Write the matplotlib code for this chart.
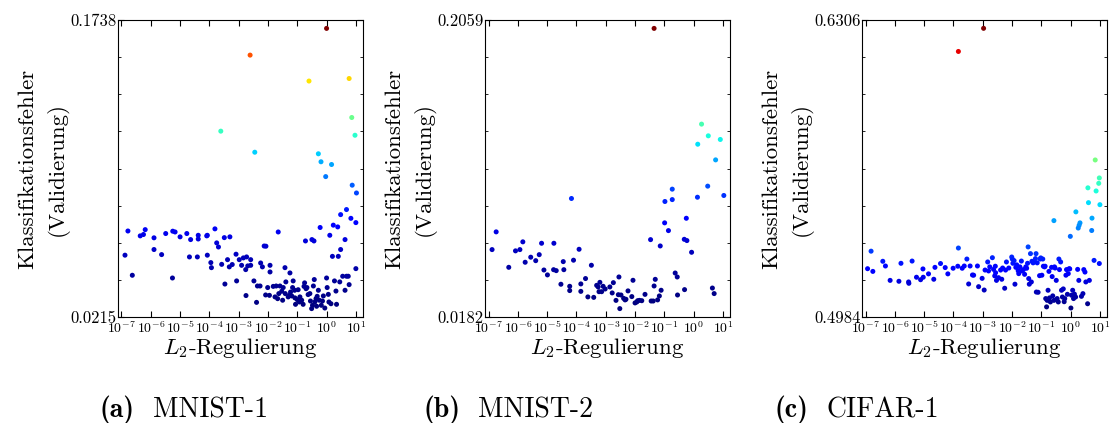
import numpy as np
import matplotlib
matplotlib.use("Agg")
import matplotlib.pyplot as plt
from matplotlib.ticker import FixedLocator, FixedFormatter

plt.rcParams['font.family'] = 'serif'
plt.rcParams['font.serif'] = ['cmr10']
plt.rcParams['mathtext.fontset'] = 'cm'
plt.rcParams['axes.unicode_minus'] = False
plt.rcParams['axes.formatter.use_mathtext'] = True

# log10 of the L2 value and validation error
mnist1_logl2 = [0.00, -2.61, -0.60, 0.77, 0.86, -3.61, 0.97, -2.45, -0.28, -0.19, 0.17, -0.03,
                0.875, 1.02, 0.48, 0.68, 0.83, 1.00,
                -6.88, -6.78, -6.63, -6.36, -6.25, -6.19, -5.89, -5.89, -5.63, -5.49, -5.26, -5.25,
                -5.17, -5.00, -4.77, -4.68, -4.64, -4.41, -4.38, -4.38, -4.09, -4.07, -4.07, -3.95,
                -3.93, -3.81, -3.75, -3.69, -3.58, -3.47, -3.49, -3.38, -3.30, -3.32, -3.22, -3.09,
                -3.07, -2.98, -2.90, -2.84, -2.76, -2.75, -2.73, -2.69, -2.59, -2.59, -2.48, -2.39,
                -2.36, -2.27, -2.25, -2.19, -2.13, -2.08, -2.07, -2.01, -1.95, -1.93, -1.93, -1.82,
                -1.76, -1.72, -1.67, -1.65, -1.63, -1.59, -1.53, -1.50, -1.48, -1.42, -1.41, -1.39,
                -1.31, -1.27, -1.25, -1.23, -1.19, -1.16, -1.14, -1.09, -1.08, -1.06, -1.00, -0.97,
                -0.93, -0.91, -0.85, -0.80, -0.77, -0.75, -0.72, -0.70, -0.67, -0.63, -0.57, -0.55,
                -0.51, -0.50, -0.48, -0.45, -0.43, -0.42, -0.40, -0.36, -0.34, -0.32, -0.28, -0.25,
                -0.22, -0.18, -0.14, -0.11, -0.06, 0.00, 0.02, 0.06, 0.08, 0.11, 0.15, 0.20,
                0.23, 0.27, 0.32, 0.34, 0.38, 0.40, 0.45, 0.48, 0.55, 0.63, 0.63, 0.68,
                0.74, 0.77, 1.00]
mnist1_err = [0.1695, 0.1558, 0.1425, 0.1438, 0.1238, 0.1168, 0.1147, 0.1060, 0.1052, 0.1011, 0.0997, 0.0935,
              0.0891, 0.0851, 0.0740, 0.0766, 0.0721, 0.0699,
              0.0532, 0.0656, 0.0429, 0.0631, 0.0638, 0.0663, 0.0621, 0.0561, 0.0535, 0.0643, 0.0415, 0.0655,
              0.0651, 0.0626, 0.0643, 0.0523, 0.0612, 0.0523, 0.0634, 0.0615, 0.0631, 0.0634, 0.0532, 0.0494,
              0.0468, 0.0667, 0.0595, 0.0574, 0.0485, 0.0384, 0.0622, 0.0509, 0.0626, 0.0472, 0.0484, 0.0537,
              0.0400, 0.0509, 0.0480, 0.0518, 0.0458, 0.0325, 0.0523, 0.0477, 0.0509, 0.0480, 0.0400, 0.0290,
              0.0374, 0.0374, 0.0492, 0.0472, 0.0579, 0.0328, 0.0578, 0.0366, 0.0326, 0.0480, 0.0446, 0.0372,
              0.0318, 0.0374, 0.0309, 0.0651, 0.0335, 0.0374, 0.0347, 0.0301, 0.0366, 0.0468, 0.0335, 0.0395,
              0.0318, 0.0326, 0.0441, 0.0343, 0.0323, 0.0366, 0.0400, 0.0352, 0.0313, 0.0280, 0.0304, 0.0355,
              0.0292, 0.0318, 0.0301, 0.0280, 0.0372, 0.0390, 0.0605, 0.0360, 0.0366, 0.0330, 0.0335, 0.0297,
              0.0258, 0.0612, 0.0275, 0.0374, 0.0605, 0.0407, 0.0292, 0.0309, 0.0270, 0.0321, 0.0352, 0.0301,
              0.0674, 0.0275, 0.0297, 0.0323, 0.0261, 0.0415, 0.0366, 0.0331, 0.0292, 0.0634, 0.0283, 0.0526,
              0.0686, 0.0400, 0.0348, 0.0280, 0.0677, 0.0526, 0.0395, 0.0561, 0.0424, 0.0612, 0.0352, 0.0424,
              0.0424, 0.0381, 0.0463]

mnist2_logl2 = [-1.35, 0.27, 0.50, 0.14, 0.91, 0.75, 0.48, 0.13, 1.03, -4.17, -0.73, -0.73,
                -0.98, -0.99, -0.86, -0.25, -1.47, -1.14, -0.32, -0.23, -0.07,
                -6.88, -6.74, -6.31, -6.08, -5.93, -5.83, -5.75, -5.56, -5.39, -5.27, -5.19, -5.11,
                -4.99, -4.78, -4.77, -4.69, -4.53, -4.45, -4.43, -4.23, -4.23, -4.10, -3.91, -3.85,
                -3.85, -3.69, -3.61, -3.49, -3.41, -3.31, -3.26, -3.23, -3.20, -3.14, -3.09, -3.02,
                -2.86, -2.78, -2.74, -2.65, -2.57, -2.55, -2.52, -2.48, -2.39, -2.34, -2.31, -2.24,
                -2.11, -2.07, -2.00, -1.94, -1.91, -1.85, -1.77, -1.66, -1.45, -1.38, -1.35, -1.31,
                -1.23, -1.17, -1.11, -0.63, -0.56, -0.55, -0.31, 0.64, 0.70]
mnist2_err = [0.2006, 0.1401, 0.1327, 0.1274, 0.1304, 0.1175, 0.1009, 0.0939, 0.0950, 0.0931, 0.0990, 0.0924,
              0.0912, 0.0777, 0.0728, 0.0806, 0.0671, 0.0631, 0.0673, 0.0665, 0.0591,
              0.0608, 0.0720, 0.0496, 0.0600, 0.0608, 0.0657, 0.0528, 0.0560, 0.0538, 0.0576, 0.0648, 0.0479,
              0.0448, 0.0481, 0.0648, 0.0475, 0.0389, 0.0532, 0.0481, 0.0376, 0.0349, 0.0541, 0.0610, 0.0391,
              0.0344, 0.0425, 0.0309, 0.0509, 0.0306, 0.0382, 0.0372, 0.0342, 0.0401, 0.0342, 0.0376, 0.0359,
              0.0372, 0.0334, 0.0399, 0.0287, 0.0323, 0.0435, 0.0235, 0.0321, 0.0300, 0.0290, 0.0294, 0.0347,
              0.0311, 0.0414, 0.0271, 0.0277, 0.0285, 0.0287, 0.0285, 0.0325, 0.0283, 0.0283, 0.0378, 0.0420,
              0.0290, 0.0315, 0.0351, 0.0460, 0.0435, 0.0321, 0.0355, 0.0365, 0.0330]

cifar1_logl2 = [-2.97, -3.83, 0.84, 0.98, 0.96, 0.59, 0.87, 0.61, 1.00, 0.18, -0.57, 0.73,
                0.32, 0.29, 0.26, 0.72, -0.01,
                -6.93, -6.81, -6.75, -6.41, -6.32, -6.16, -5.86, -5.79, -5.53, -5.52, -5.41, -5.26,
                -5.12, -5.04, -5.03, -4.85, -4.67, -4.63, -4.44, -4.28, -4.19, -4.01, -3.85, -3.83,
                -3.70, -3.63, -3.54, -3.48, -3.43, -3.35, -3.31, -3.18, -3.14, -3.02, -2.95, -2.92,
                -2.83, -2.80, -2.76, -2.67, -2.63, -2.59, -2.57, -2.56, -2.53, -2.46, -2.39, -2.35,
                -2.32, -2.25, -2.22, -2.19, -2.11, -2.01, -1.99, -1.97, -1.93, -1.90, -1.87, -1.84,
                -1.79, -1.77, -1.73, -1.68, -1.66, -1.61, -1.57, -1.53, -1.50, -1.47, -1.45, -1.43,
                -1.41, -1.37, -1.34, -1.32, -1.28, -1.24, -1.20, -1.18, -1.17, -1.14, -1.11, -1.06,
                -1.04, -1.02, -0.98, -0.95, -0.93, -0.89, -0.87, -0.85, -0.82, -0.80, -0.77, -0.74,
                -0.72, -0.69, -0.65, -0.63, -0.61, -0.57, -0.55, -0.53, -0.49, -0.46, -0.42, -0.40,
                -0.38, -0.34, -0.31, -0.28, -0.25, -0.22, -0.20, -0.16, -0.14, -0.11, -0.08, -0.05,
                -0.03, 0.01, 0.03, 0.07, 0.10, 0.13, 0.17, 0.24, 0.28, 0.37, 0.42, 0.45,
                0.49, 0.52, 0.58, 0.64, 0.80, 0.98]
cifar1_err = [0.6269, 0.6166, 0.5683, 0.5603, 0.5579, 0.5559, 0.5545, 0.5493, 0.5484, 0.5452, 0.5413, 0.5424,
              0.5403, 0.5392, 0.5380, 0.5369, 0.5343,
              0.5199, 0.5277, 0.5187, 0.5232, 0.5211, 0.5147, 0.5143, 0.5223, 0.5140, 0.5134, 0.5233, 0.5161,
              0.5150, 0.5198, 0.5161, 0.5176, 0.5152, 0.5205, 0.5222, 0.5204, 0.5176, 0.5201, 0.5210, 0.5291,
              0.5201, 0.5211, 0.5242, 0.5131, 0.5211, 0.5171, 0.5170, 0.5211, 0.5119, 0.5156, 0.5104, 0.5193,
              0.5229, 0.5189, 0.5207, 0.5248, 0.5196, 0.5167, 0.5210, 0.5181, 0.5147, 0.5159, 0.5193, 0.5152,
              0.5202, 0.5112, 0.5193, 0.5229, 0.5202, 0.5251, 0.5242, 0.5223, 0.5235, 0.5130, 0.5205, 0.5216,
              0.5190, 0.5177, 0.5207, 0.5233, 0.5189, 0.5195, 0.5174, 0.5207, 0.5201, 0.5223, 0.5296, 0.5155,
              0.5130, 0.5266, 0.5140, 0.5232, 0.5225, 0.5230, 0.5244, 0.5266, 0.5095, 0.5225, 0.5094, 0.5168,
              0.5242, 0.5247, 0.5170, 0.5242, 0.5210, 0.5207, 0.5210, 0.5066, 0.5029, 0.5058, 0.5103, 0.5187,
              0.5069, 0.5051, 0.5205, 0.5164, 0.5078, 0.5058, 0.5207, 0.5202, 0.5147, 0.5066, 0.5051, 0.5242,
              0.5195, 0.5229, 0.5103, 0.5073, 0.5109, 0.5052, 0.5066, 0.5170, 0.5195, 0.5085, 0.5177, 0.5199,
              0.5198, 0.5024, 0.5081, 0.5103, 0.5066, 0.5086, 0.5073, 0.5196, 0.5147, 0.5076, 0.5088, 0.5195,
              0.5184, 0.5140, 0.5043, 0.5147, 0.5236, 0.5222]

ylims = [(0.0215, 0.1738), (0.0182, 0.2059), (0.4984, 0.6306)]
cap_tags = ["(a)", "(b)", "(c)"]
cap_names = ["MNIST-1", "MNIST-2", "CIFAR-1"]
panels = [(mnist1_logl2, mnist1_err), (mnist2_logl2, mnist2_err), (cifar1_logl2, cifar1_err)]

W, H = 1112, 423
fig = plt.figure(figsize=(W / 100, H / 100), dpi=100)
lefts = [0.1061, 0.4362, 0.7752]
tag_right = [135, 460, 808]
name_left = [153, 478, 826]

for k in range(3):
    ax = fig.add_axes([lefts[k], 0.2506, 0.2200, 0.7021])
    lx, err = panels[k]
    l2 = 10.0 ** np.array(lx)
    err = np.array(err)
    ax.scatter(l2, err, c=err ** 2.3, cmap='jet', s=13, linewidths=0, zorder=3)
    ax.set_xscale('log')
    ax.set_xlim(7.6e-8, 17)
    ax.set_xticks([10.0 ** e for e in range(-7, 2)])
    lo, hi = ylims[k]
    ax.set_ylim(lo, hi)
    ax.yaxis.set_major_locator(FixedLocator([lo, hi]))
    ax.yaxis.set_major_formatter(FixedFormatter(["%.4f" % lo, "%.4f" % hi]))
    ax.yaxis.set_minor_locator(FixedLocator(np.linspace(lo, hi, 9)[1:-1]))
    ax.tick_params(which='both', direction='in', top=True, right=True)
    ax.tick_params(which='major', length=4, width=0.8)
    ax.tick_params(which='minor', length=2, width=0.6)
    ax.tick_params(axis='x', labelsize=10, pad=2)
    ax.tick_params(axis='y', labelsize=12, pad=1)
    ax.set_xlabel(r"$L_2$-Regulierung", fontsize=16.5, labelpad=0)
    ax.set_ylabel("Klassifikationsfehler\n(Validierung)", fontsize=16.5, linespacing=1.5, labelpad=1)
    fig.text(tag_right[k] / W, 1 - 410 / H, cap_tags[k], family='cmb10', fontsize=20,
             ha='right', va='center')
    fig.text(name_left[k] / W, 1 - 410 / H, cap_names[k], fontsize=20, ha='left', va='center')

fig.savefig("out.png", dpi=100)
